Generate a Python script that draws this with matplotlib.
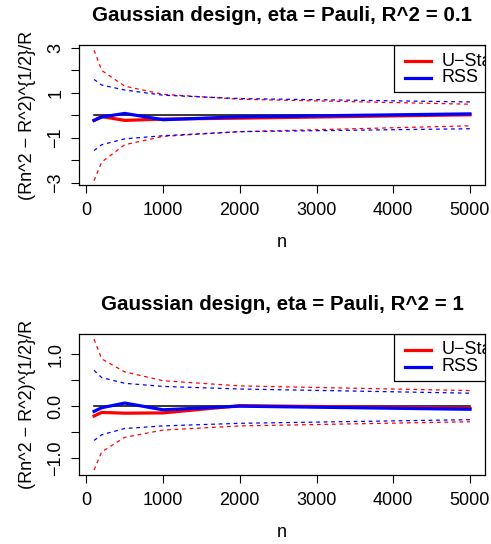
import numpy as np
import matplotlib
matplotlib.use("Agg")
import matplotlib.pyplot as plt
from matplotlib.patches import Rectangle

plt.rcParams['font.family'] = ['Liberation Sans', 'DejaVu Sans']

# sample sizes
n = [100, 200, 500, 1000, 2000, 5000]

# panel 1 : R^2 = 0.1
ustat_1 = [-0.22, -0.05, -0.22, -0.16, -0.12, 0.03]
ustat_up_1 = [2.9, 2.0, 1.3, 0.94, 0.72, 0.5]
ustat_lo_1 = [-2.9, -2.07, -1.3, -0.93, -0.72, -0.46]
rss_1 = [-0.22, -0.07, 0.09, -0.19, -0.06, 0.07]
rss_up_1 = [1.6, 1.35, 1.13, 0.9, 0.75, 0.6]
rss_lo_1 = [-1.56, -1.3, -1.04, -0.9, -0.72, -0.59]

# panel 2 : R^2 = 1
ustat_2 = [-0.19, -0.12, -0.135, -0.13, 0.01, -0.04]
ustat_up_2 = [1.29, 0.91, 0.66, 0.49, 0.39, 0.30]
ustat_lo_2 = [-1.23, -0.88, -0.60, -0.46, -0.38, -0.30]
rss_2 = [-0.10, -0.03, 0.06, -0.07, 0.0, -0.06]
rss_up_2 = [0.69, 0.55, 0.44, 0.38, 0.33, 0.25]
rss_lo_2 = [-0.66, -0.55, -0.43, -0.38, -0.33, -0.26]

titles = ["Gaussian design, eta = Pauli, R^2 = 0.1",
          "Gaussian design, eta = Pauli, R^2 = 1"]
xticks = [0, 1000, 2000, 3000, 4000, 5000]
yticks_1 = [-3, -2, -1, 0, 1, 2, 3]
ylabels_1 = ["\u22123", "", "\u22121", "", "1", "", "3"]
yticks_2 = [-1.0, -0.5, 0.0, 0.5, 1.0]
ylabels_2 = ["\u22121.0", "", "0.0", "", "1.0"]
legend_labels = ["U\u2212Statistic", "RSS"]

W, H = 491, 544
fig = plt.figure(figsize=(W / 100, H / 100), dpi=100)

def make_axes(top, bottom):
    return fig.add_axes([79 / W, 1 - bottom / H, 406 / W, (bottom - top) / H])

ax1 = make_axes(45, 185)
ax2 = make_axes(334, 475)

panels = [
    (ax1, ustat_1, ustat_up_1, ustat_lo_1, rss_1, rss_up_1, rss_lo_1, yticks_1, ylabels_1, (-3.09, 3.13)),
    (ax2, ustat_2, ustat_up_2, ustat_lo_2, rss_2, rss_up_2, rss_lo_2, yticks_2, ylabels_2, (-1.325, 1.389)),
]

for i, (ax, us, us_up, us_lo, rs, rs_up, rs_lo, yt, yl, ylim) in enumerate(panels):
    ax.plot(n, [0] * len(n), color='black', lw=1.1)
    ax.plot(n, us, color='red', lw=2.3)
    ax.plot(n, us_up, color='red', lw=0.9, dashes=(3, 3))
    ax.plot(n, us_lo, color='red', lw=0.9, dashes=(3, 3))
    ax.plot(n, rs, color='blue', lw=2.3)
    ax.plot(n, rs_up, color='blue', lw=0.9, dashes=(3, 3))
    ax.plot(n, rs_lo, color='blue', lw=0.9, dashes=(3, 3))

    ax.set_xlim(-96, 5196)
    ax.set_ylim(*ylim)
    ax.set_xticks(xticks)
    ax.set_xticklabels([str(x) for x in xticks])
    ax.set_yticks(yt)
    ax.set_yticklabels(yl, rotation=90, va='center')
    ax.tick_params(direction='out', length=5.5, width=0.8, labelsize=13)
    ax.tick_params(axis='x', pad=7)
    ax.tick_params(axis='y', pad=5)
    for sp in ax.spines.values():
        sp.set_linewidth(0.9)

    ax.set_title(titles[i], fontsize=14.8, fontweight='bold', pad=17)
    ax.set_xlabel("n", fontsize=13, labelpad=10.5)
    ax.set_ylabel("(Rn^2 \u2212 R^2)^{1/2}/R", fontsize=13, labelpad=8.5)

    # legend, clipped by the plot region like in R
    ax_h = ax.get_position().height * H
    box_h = 47 / ax_h
    ax.add_patch(Rectangle((0.776, 1 - box_h), 0.3, box_h, transform=ax.transAxes,
                           fill=False, lw=0.9, edgecolor='black', clip_on=True))
    row1 = 1 - 16 / ax_h
    row2 = 1 - 32.5 / ax_h
    for yy, col, lab in [(row1, 'red', legend_labels[0]), (row2, 'blue', legend_labels[1])]:
        ax.plot([0.803, 0.867], [yy, yy], color=col, lw=2.3, transform=ax.transAxes)
        ax.text(0.894, yy, lab, transform=ax.transAxes, fontsize=13,
                va='center', ha='left', clip_on=True)

fig.savefig("out.png", dpi=100)
